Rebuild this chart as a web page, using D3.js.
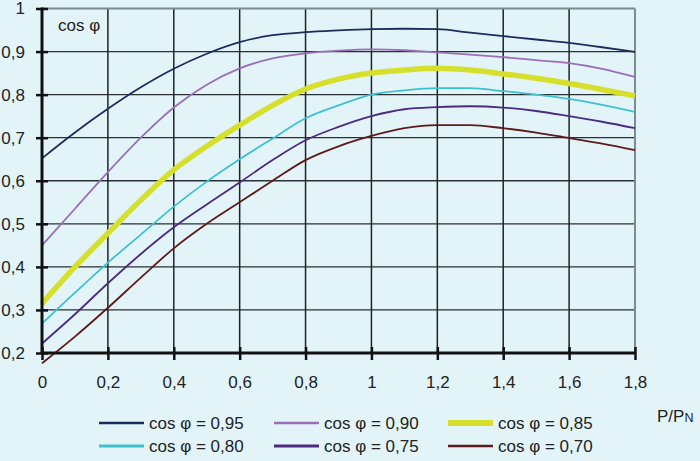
<!DOCTYPE html>
<html>
<head>
<meta charset="utf-8">
<script src="https://cdn.jsdelivr.net/npm/d3@7"></script>
<style>
  body { margin: 0; background: #e2f4f8; }
  svg { display: block; font-family: "Liberation Sans", Arial, sans-serif; }
</style>
</head>
<body>
<svg id="chart"></svg>
<script>
// load ratio P/PN
var pValues = [0, 0.1, 0.2, 0.3, 0.4, 0.5, 0.6, 0.7, 0.8, 0.9, 1.0, 1.1, 1.2, 1.3, 1.4, 1.5, 1.6, 1.7, 1.8]

// cos phi of the whole installation, one list per nominal cos phi
var cos95 = [0.652, 0.712, 0.767, 0.817, 0.86, 0.895, 0.922, 0.938, 0.945, 0.949, 0.952, 0.953, 0.952, 0.944, 0.936, 0.928, 0.92, 0.91, 0.899]
var cos90 = [0.45, 0.535, 0.62, 0.70, 0.77, 0.823, 0.861, 0.884, 0.896, 0.902, 0.905, 0.903, 0.898, 0.893, 0.887, 0.88, 0.873, 0.86, 0.841]
var cos85 = [0.315, 0.40, 0.478, 0.555, 0.625, 0.68, 0.729, 0.775, 0.813, 0.836, 0.85, 0.857, 0.861, 0.857, 0.848, 0.838, 0.826, 0.812, 0.797]
var cos80 = [0.268, 0.34, 0.41, 0.475, 0.54, 0.598, 0.65, 0.698, 0.745, 0.775, 0.80, 0.81, 0.815, 0.815, 0.808, 0.80, 0.79, 0.776, 0.76]
var cos75 = [0.222, 0.29, 0.362, 0.43, 0.492, 0.545, 0.596, 0.648, 0.694, 0.725, 0.75, 0.766, 0.771, 0.773, 0.77, 0.762, 0.75, 0.737, 0.722]
var cos70 = [0.176, 0.238, 0.305, 0.375, 0.443, 0.50, 0.55, 0.60, 0.648, 0.68, 0.704, 0.722, 0.729, 0.729, 0.722, 0.712, 0.699, 0.686, 0.671]

var seriesNames = ["cos φ = 0,95", "cos φ = 0,90", "cos φ = 0,85", "cos φ = 0,80", "cos φ = 0,75", "cos φ = 0,70"]

var xTicks = [0, 0.2, 0.4, 0.6, 0.8, 1.0, 1.2, 1.4, 1.6, 1.8]
var xTickLabels = ["0", "0,2", "0,4", "0,6", "0,8", "1", "1,2", "1,4", "1,6", "1,8"]
var yTicks = [0.2, 0.3, 0.4, 0.5, 0.6, 0.7, 0.8, 0.9, 1.0]
var yTickLabels = ["0,2", "0,3", "0,4", "0,5", "0,6", "0,7", "0,8", "0,9", "1"]

var dimensions = {
    width: 700,
    height: 461,
    margin: { top: 8.5, bottom: 108, right: 65, left: 42 }
}
dimensions.boundedWidth = dimensions.width - dimensions.margin.left - dimensions.margin.right
dimensions.boundedHeight = dimensions.height - dimensions.margin.top - dimensions.margin.bottom

var colors = ["#1c2d5c", "#9a6fb4", "#d6e02c", "#3fc0cf", "#4b2b80", "#5e1a1a"]
var widths = [1.8, 1.8, 5.5, 1.8, 1.8, 1.8]
var legendWidths = [2.5, 2.5, 6, 3, 3, 2.5]
var fontSize = 17

var allSeries = [cos95, cos90, cos85, cos80, cos75, cos70].map(function (vals, i) {
    return { name: seriesNames[i], values: vals.map(function (v, j) { return [pValues[j], v] }) }
})

var svg = d3.select("#chart")
    .attr("width", dimensions.width)
    .attr("height", dimensions.height)

var bounds = svg.append("g")
    .attr("transform", "translate(" + dimensions.margin.left + "," + dimensions.margin.top + ")")

var xScale = d3.scaleLinear()
    .domain([0, 1.8])
    .range([0, dimensions.boundedWidth])

var yScale = d3.scaleLinear()
    .domain([0.2, 1])
    .range([dimensions.boundedHeight, 0])

// grid
bounds.append("g")
    .selectAll("line")
    .data(yTicks.filter(function (d) { return d > 0.2 && d < 1 }))
    .enter().append("line")
    .attr("x1", 0).attr("x2", dimensions.boundedWidth)
    .attr("y1", d => yScale(d)).attr("y2", d => yScale(d))
    .attr("stroke", "#2a2f33").attr("stroke-width", 1.3)

bounds.append("g")
    .selectAll("line")
    .data(xTicks.filter(function (d) { return d > 0 && d < 1.8 }))
    .enter().append("line")
    .attr("x1", d => xScale(d)).attr("x2", d => xScale(d))
    .attr("y1", 0).attr("y2", dimensions.boundedHeight)
    .attr("stroke", "#1e2326").attr("stroke-width", 1.5)

// top and right frame (grey)
bounds.append("line")
    .attr("x1", 0).attr("x2", xScale(1.8))
    .attr("y1", yScale(1)).attr("y2", yScale(1))
    .attr("stroke", "#7c8c92").attr("stroke-width", 2)
bounds.append("line")
    .attr("x1", xScale(1.8)).attr("x2", xScale(1.8))
    .attr("y1", 0).attr("y2", dimensions.boundedHeight)
    .attr("stroke", "#7c8c92").attr("stroke-width", 2)

// curves
var line = d3.line()
    .x(d => xScale(d[0]))
    .y(d => yScale(d[1]))
    .curve(d3.curveMonotoneX)

bounds.append("g")
    .selectAll("path")
    .data(allSeries)
    .enter().append("path")
    .attr("d", d => line(d.values))
    .attr("fill", "none")
    .attr("stroke", (d, i) => colors[i])
    .attr("stroke-width", (d, i) => widths[i])
    .attr("stroke-linejoin", "round")

// axes
var yAxis = d3.axisLeft(yScale)
    .tickValues(yTicks)
    .tickFormat((d, i) => yTickLabels[i])
    .tickSize(6)
    .tickPadding(12)
var yAxisG = bounds.append("g").call(yAxis)
yAxisG.select(".domain").remove()
yAxisG.selectAll(".tick line").attr("x2", 6).attr("x1", -6).attr("stroke", "#111").attr("stroke-width", 2.5)
yAxisG.selectAll(".tick text").attr("font-size", fontSize).attr("fill", "#222").attr("font-family", "Liberation Sans, Arial, sans-serif").attr("x", -17)

var xAxis = d3.axisBottom(xScale)
    .tickValues(xTicks)
    .tickFormat((d, i) => xTickLabels[i])
    .tickSize(6)
    .tickPadding(17)
var xAxisG = bounds.append("g")
    .attr("transform", "translate(0," + dimensions.boundedHeight + ")")
    .call(xAxis)
xAxisG.select(".domain").remove()
xAxisG.selectAll(".tick line").attr("y1", -6).attr("y2", 7).attr("stroke", "#111").attr("stroke-width", 2.5)
xAxisG.selectAll(".tick text").attr("font-size", fontSize).attr("fill", "#222").attr("font-family", "Liberation Sans, Arial, sans-serif")

bounds.append("line")
    .attr("x1", 0).attr("x2", 0)
    .attr("y1", -1).attr("y2", dimensions.boundedHeight)
    .attr("stroke", "#111").attr("stroke-width", 3)
bounds.append("line")
    .attr("x1", 0).attr("x2", xScale(1.8) + 1)
    .attr("y1", dimensions.boundedHeight).attr("y2", dimensions.boundedHeight)
    .attr("stroke", "#111").attr("stroke-width", 3)

// axis titles
svg.append("text")
    .attr("x", 58).attr("y", 31)
    .attr("font-size", fontSize).attr("fill", "#222")
    .text("cos φ")

var pLabel = svg.append("text")
    .attr("x", 657).attr("y", 422)
    .attr("font-size", fontSize).attr("fill", "#222")
pLabel.append("tspan").text("P/P")
pLabel.append("tspan").attr("font-size", 12.5).text("N")

// legend
var legendX = [99, 274, 448]
var legendY = [423, 446]
var legend = svg.append("g")
    .selectAll("g")
    .data(allSeries)
    .enter().append("g")
    .attr("transform", (d, i) => "translate(" + legendX[i % 3] + "," + legendY[Math.floor(i / 3)] + ")")

legend.append("line")
    .attr("x1", 0).attr("x2", 45)
    .attr("stroke", (d, i) => colors[i])
    .attr("stroke-width", (d, i) => legendWidths[i])

legend.append("text")
    .attr("x", 50).attr("y", 6)
    .attr("font-size", fontSize).attr("fill", "#222")
    .text(d => d.name)
</script>
</body>
</html>
